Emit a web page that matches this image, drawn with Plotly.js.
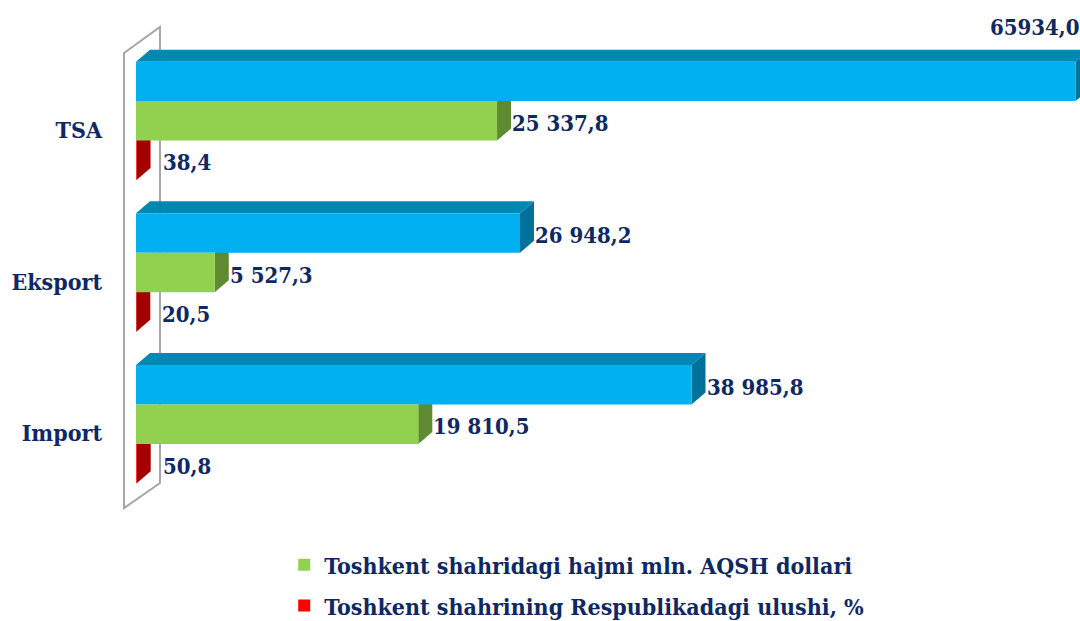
<!DOCTYPE html>
<html>
<head>
<meta charset="utf-8">
<script src="https://cdn.plot.ly/plotly-3.0.1.min.js"></script>
<style>html,body{margin:0;padding:0;background:#fff;}#chart{width:1080px;height:621px;}</style>
</head>
<body>
<div id="chart"></div>
<script>
// ---- data ----
const categories = ['TSA', 'Eksport', 'Import'];
const totalValues = [65934.0, 26948.2, 38985.8];      // blue (Respublika jami)
const tashkentValues = [25337.8, 5527.3, 19810.5];    // green
const shareValues = [38.4, 20.5, 50.8];               // red, %
const totalLabels = ['65934,0', '26 948,2', '38 985,8'];
const tashkentLabels = ['25 337,8', '5 527,3', '19 810,5'];
const shareLabels = ['38,4', '20,5', '50,8'];
const seriesNames = ['Respublika bo\'yicha jami', 'Toshkent shahridagi hajmi mln. AQSH dollari', 'Toshkent shahrining Respublikadagi ulushi, %'];

// ---- styling ----
const navy = '#0f2862';
const frontColors = ['#00b0f0', '#92d050', '#ff0000'];
const sideColors = ['#00719a', '#5f8a30', '#a50000'];
const topColor = '#0088b5';
const fam = 'DejaVu Serif Condensed, DejaVu Serif';
const labelFont = {family: fam, size: 22, color: navy, weight: 'bold'};
const tickFont = {family: fam, size: 23, color: navy, weight: 'bold'};
const legendFont = {family: fam, size: 23, color: navy, weight: 'bold'};

const W = 1080, H = 621;
const margin = {l: 136, r: 0, t: 45, b: 121, autoexpand: false};
const xMax = 66250;
const bargap = 0.22;
const plotW = W - margin.l - margin.r;
const plotH = H - margin.t - margin.b;
const pxPerX = plotW / xMax;
const pxPerCat = plotH / 3;
const depthPx = 14, depthPy = 12;
const dx = depthPx / pxPerX;
const dy = depthPy / pxPerCat;
const barW = (1 - bargap) / 3;

const seriesValues = [totalValues, tashkentValues, shareValues];
const seriesLabels = [totalLabels, tashkentLabels, shareLabels];

const traces = seriesValues.map((vals, k) => ({
  type: 'bar',
  orientation: 'h',
  name: seriesNames[k],
  y: categories,
  x: vals,
  marker: {color: frontColors[k], line: {width: 0}},
  showlegend: k > 0,
  legendgroup: 'g' + k,
  hoverinfo: 'x+y'
}));

const shapes = [];
const annotations = [];
categories.forEach((c, i) => {
  seriesValues.forEach((vals, k) => {
    const v = vals[i];
    const center = i + (k - 1) * barW;
    const top = center - barW / 2;
    const bot = center + barW / 2;
    shapes.push({
      type: 'path', xref: 'x', yref: 'y', layer: 'below',
      path: `M${v},${top} L${v + dx},${top - dy} L${v + dx},${bot - dy} L${v},${bot} Z`,
      fillcolor: sideColors[k], line: {width: 0}
    });
    if (k === 0) {
      shapes.push({
        type: 'path', xref: 'x', yref: 'y', layer: 'below',
        path: `M0,${top} L${dx},${top - dy} L${v + dx},${top - dy} L${v},${top} Z`,
        fillcolor: topColor, line: {width: 0}
      });
    }
    const big = v > 0.9 * xMax;
    const txt = seriesLabels[k][i];
    annotations.push(big ? {
      x: v, y: top, xref: 'x', yref: 'y', text: txt,
      xanchor: 'right', yanchor: 'bottom', xshift: 6, yshift: 20,
      showarrow: false, font: labelFont
    } : {
      x: v, y: center, xref: 'x', yref: 'y', text: txt,
      xanchor: 'left', yanchor: 'middle', xshift: k === 2 ? 24 : 13, yshift: -2,
      showarrow: false, font: labelFont
    });
  });
});

const px2paperX = p => (p - margin.l) / plotW;
const px2paperY = p => (margin.t + plotH - p) / plotH;
shapes.push({
  type: 'path', xref: 'paper', yref: 'paper', layer: 'below',
  path: `M${px2paperX(124)},${px2paperY(53)} L${px2paperX(160)},${px2paperY(27)} L${px2paperX(160)},${px2paperY(483)} L${px2paperX(124)},${px2paperY(508)} Z`,
  line: {color: '#a6a6a6', width: 2}, fillcolor: 'rgba(0,0,0,0)'
});

const layout = {
  width: W, height: H,
  margin: margin,
  font: labelFont,
  paper_bgcolor: '#ffffff', plot_bgcolor: '#ffffff',
  barmode: 'group', bargap: bargap, bargroupgap: 0,
  xaxis: {range: [0, xMax], visible: false, fixedrange: true},
  yaxis: {
    type: 'category', range: [2.5, -0.5], showgrid: false, zeroline: false, showline: false,
    ticks: '', ticklabelstandoff: 33, ticklabelshift: -9,
    tickfont: tickFont, fixedrange: true
  },
  showlegend: true,
  legend: {
    orientation: 'v', x: 0.157, xanchor: 'left', y: -0.095, yanchor: 'top',
    traceorder: 'grouped', tracegroupgap: 8,
    font: legendFont, bgcolor: 'rgba(0,0,0,0)'
  },
  shapes: shapes,
  annotations: annotations
};

Plotly.newPlot('chart', traces, layout, {displayModeBar: false, staticPlot: true});
</script>
</body>
</html>
